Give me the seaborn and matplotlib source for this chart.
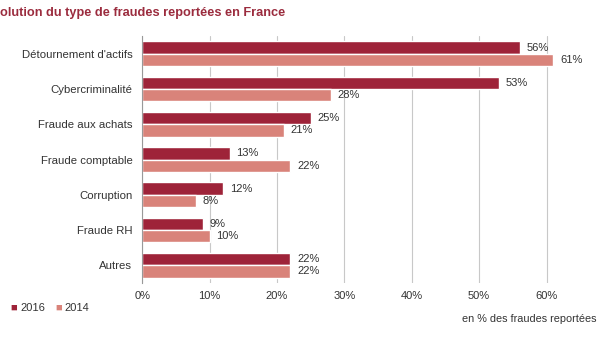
import matplotlib
matplotlib.use("Agg")
import matplotlib.pyplot as plt
import seaborn as sns
import pandas as pd
import numpy as np
from matplotlib.ticker import FixedLocator

categories = ["Détournement d'actifs", "Cybercriminalité", "Fraude aux achats",
              "Fraude comptable", "Corruption", "Fraude RH", "Autres"]
years = ["2016", "2014"]
values_2016 = [56, 53, 25, 13, 12, 9, 22]
values_2014 = [61, 28, 21, 22, 8, 10, 22]
x_ticks = [0, 10, 20, 30, 40, 50, 60]
x_tick_labels = ["0%", "10%", "20%", "30%", "40%", "50%", "60%"]

df = pd.DataFrame({
    "cat": categories * 2,
    "year": ["2016"] * len(categories) + ["2014"] * len(categories),
    "val": values_2016 + values_2014,
})

sns.set_theme(style="white")
plt.rcParams['font.family'] = ['Liberation Sans', 'DejaVu Sans']

fig = plt.figure(figsize=(6, 3.38), dpi=100)
ax = fig.add_axes([0.237, 0.163, 0.73, 0.73])

palette = {"2016": "#9e2339", "2014": "#d9837a"}
sns.barplot(data=df, y="cat", x="val", hue="year", hue_order=years,
            order=categories, palette=palette, width=0.7, ax=ax,
            legend=False, saturation=1)

for cont in ax.containers:
    for bar in cont:
        w = bar.get_width()
        ax.text(w + 1.0, bar.get_y() + bar.get_height() / 2, f"{int(round(w))}%",
                va="center", ha="left", fontsize=8, color="#333333")

ax.set_xlim(0, 65)
ax.set_ylim(len(categories) - 0.5, -0.5)
ax.set_xticks(x_ticks)
ax.set_xticklabels(x_tick_labels, fontsize=8, color="#333333")
ax.tick_params(axis="x", length=0, pad=6)
ax.tick_params(axis="y", which="major", length=0, labelsize=8.2, labelcolor="#333333", pad=7)
ax.yaxis.set_minor_locator(FixedLocator(np.arange(-0.5, len(categories), 1)))
ax.tick_params(axis="y", which="minor", length=3, color="#999999", width=0.8)
ax.set_xlabel("")
ax.set_ylabel("")
ax.xaxis.grid(True, color="#c8c8c8", linewidth=0.8)
ax.set_axisbelow(True)
for s in ["top", "right", "bottom"]:
    ax.spines[s].set_visible(False)
ax.spines["left"].set_color("#999999")
ax.spines["left"].set_linewidth(0.8)

fig.text(0.0, 0.963, "olution du type de fraudes reportées en France",
         fontsize=9.2, fontweight="bold", color="#9b2c3e", va="center", ha="left")

# legend
fig.text(0.018, 0.09, "■", fontsize=8, color=palette["2016"], va="center")
fig.text(0.034, 0.09, "2016", fontsize=8, color="#333333", va="center")
fig.text(0.092, 0.09, "■", fontsize=8, color=palette["2014"], va="center")
fig.text(0.108, 0.09, "2014", fontsize=8, color="#333333", va="center")

fig.text(0.995, 0.055, "en % des fraudes reportées", fontsize=7.8, color="#333333",
         va="center", ha="right")

fig.savefig("out.png", dpi=100)
